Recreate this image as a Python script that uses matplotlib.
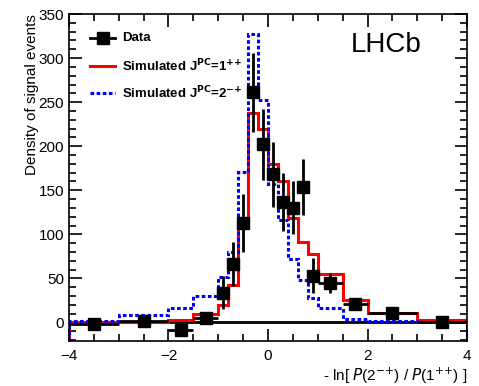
import matplotlib
matplotlib.use("Agg")
import matplotlib.pyplot as plt
import numpy as np
from matplotlib.ticker import MultipleLocator

plt.rcParams["font.family"] = ["Liberation Sans", "DejaVu Sans"]

# variable-width binning
bin_edges = [-4, -3, -2, -1.5, -1, -0.8, -0.6, -0.4, -0.2, 0, 0.2, 0.4, 0.6, 0.8, 1.0, 1.5, 2, 3, 4]

# simulated J^PC = 1++ (red) and 2-+ (blue)
sim_1pp = [0.5, 0.5, 3, 10, 20, 42, 107, 238, 219, 180, 160, 118, 91, 78, 55, 26, 10.6, 3]
sim_2mp = [2, 8.7, 16.7, 30, 52, 80, 171, 327, 252, 157, 116, 72, 48, 28, 16, 4, 2, 0]

# data points
data_y = [-2, 2, -8, 5, 34, 66, 113, 261, 202, 168, 137, 130, 154, 53, 45, 21, 10.6, 0.3]
data_err = [3, 3, 5, 7, 19, 25, 33, 45, 40, 37, 33, 30, 32, 20, 11, 7, 4, 3]

edges = np.array(bin_edges)
centers = 0.5 * (edges[1:] + edges[:-1])
half_w = 0.5 * (edges[1:] - edges[:-1])

fig = plt.figure(figsize=(4.79, 3.86), dpi=100)
ax = fig.add_axes([0.144, 0.1166, 0.831, 0.847])

ymin, ymax = -21, 350
ax.axhline(0, color="black", lw=2, zorder=1)
ax.stairs(sim_1pp, edges, baseline=ymin, color="red", lw=2.2, zorder=2)
ax.stairs(sim_2mp, edges, baseline=ymin, color="blue", lw=2.2, ls=(0, (1.2, 0.8)), zorder=2)
ax.errorbar(centers, data_y, xerr=half_w, yerr=data_err, fmt="s", color="black",
            ms=8, elinewidth=2, capsize=0, zorder=3)

ax.set_xlim(-4, 4)
ax.set_ylim(ymin, ymax)
ax.xaxis.set_major_locator(MultipleLocator(2))
ax.xaxis.set_minor_locator(MultipleLocator(0.5))
ax.yaxis.set_major_locator(MultipleLocator(50))
ax.yaxis.set_minor_locator(MultipleLocator(10))
ax.tick_params(which="both", direction="in", top=True, right=True, labelsize=11)
ax.tick_params(which="major", length=9, width=1.2)
ax.tick_params(which="minor", length=5, width=1.2)
ax.tick_params(axis="x", pad=6)
for s in ax.spines.values():
    s.set_linewidth(1.2)

ax.set_xlabel("- ln[ $P$(2$^{{-}{+}}$) / $P$(1$^{{+}{+}}$) ]", fontsize=11, loc="right", labelpad=2)
ax.set_ylabel("Density of signal events", fontsize=11, loc="top", labelpad=0)

ax.text(0.885, 0.905, "LHCb", transform=ax.transAxes, fontsize=20, ha="right", va="center")

# legend drawn by hand in axes coords
leg_x0, leg_x1, leg_tx = 0.053, 0.116, 0.133
rows = [0.928, 0.841, 0.757]
ax.plot([leg_x0, leg_x1], [rows[0]] * 2, color="black", lw=2, transform=ax.transAxes)
ax.plot([(leg_x0 + leg_x1) / 2], [rows[0]], "s", color="black", ms=8, transform=ax.transAxes)
ax.plot([leg_x0, leg_x1], [rows[1]] * 2, color="red", lw=2.2, transform=ax.transAxes)
ax.plot([leg_x0, leg_x1], [rows[2]] * 2, color="blue", lw=2.2, ls=(0, (1.2, 0.8)), transform=ax.transAxes)
labels = ["Data",
          "Simulated J$^{\\mathbf{PC}}$=1$^{{\\mathbf{+}}{\\mathbf{+}}}$",
          "Simulated J$^{\\mathbf{PC}}$=2$^{{\\mathbf{-}}{\\mathbf{+}}}$"]
for r, lab in zip(rows, labels):
    ax.text(leg_tx, r, lab, transform=ax.transAxes, fontsize=9.5, fontweight="bold", va="center")

fig.savefig("out.png", dpi=100)
